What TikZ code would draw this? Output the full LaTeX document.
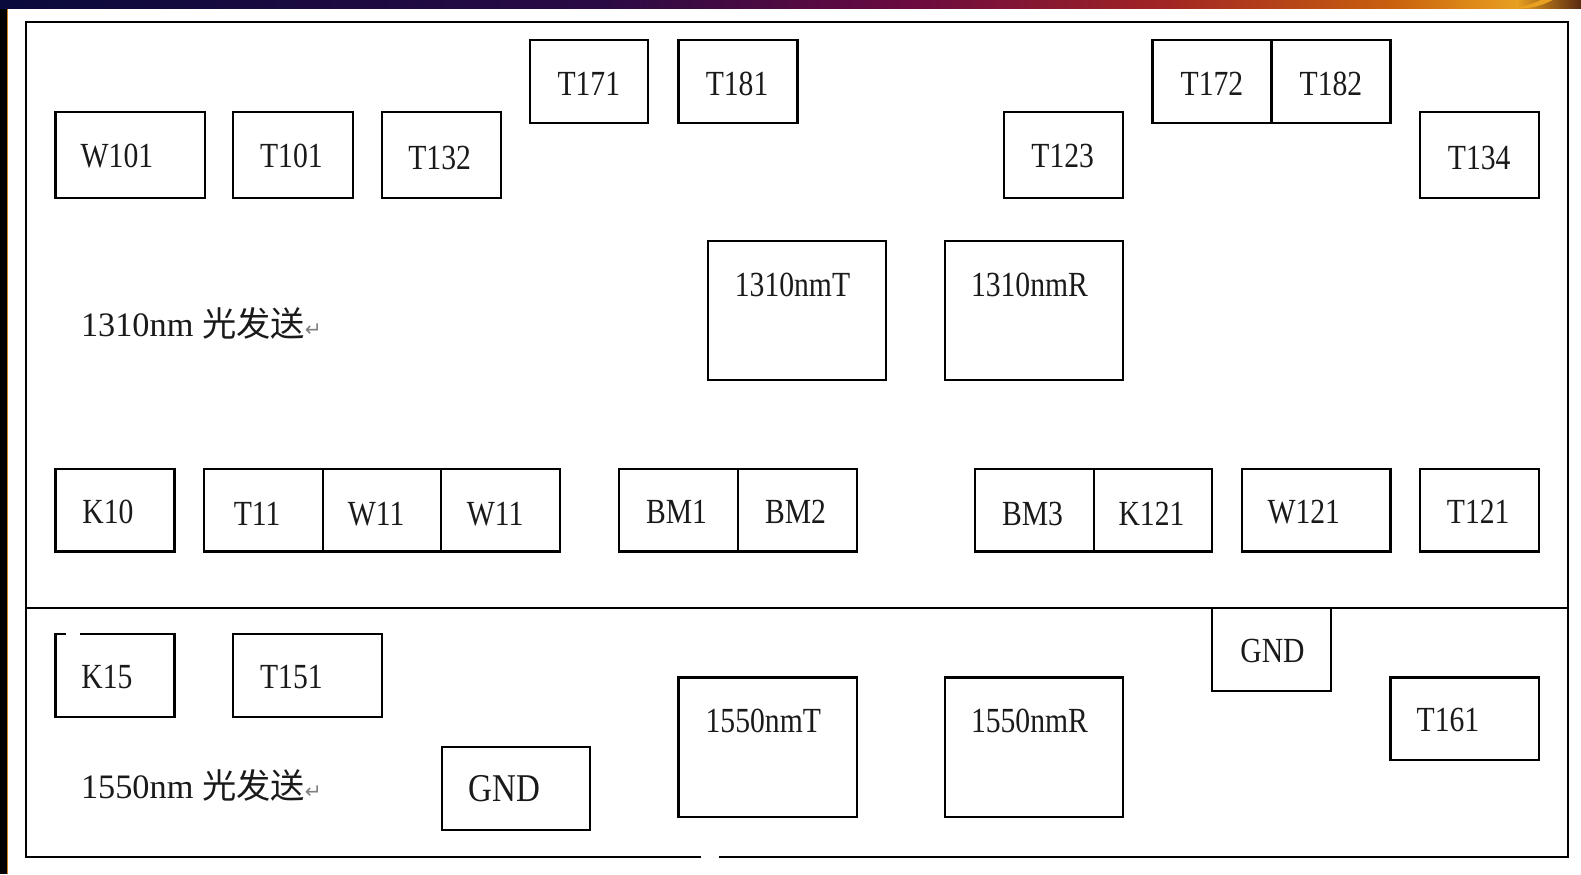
\documentclass[tikz,border=0pt]{standalone}
\usepackage{fontspec}
\setmainfont{Liberation Serif}
\newfontfamily\labfont[FakeStretch=0.84]{Liberation Serif}
\newfontfamily\cjk{Noto Sans CJK SC}
\newfontfamily\arrfont{DejaVu Sans}
\definecolor{ink}{HTML}{1A1A1A}
\definecolor{cA}{HTML}{0A0A3C}
\definecolor{cB}{HTML}{2A0A44}
\definecolor{cC}{HTML}{6A0A40}
\definecolor{cD}{HTML}{A02424}
\definecolor{cE}{HTML}{C8600E}
\definecolor{cF}{HTML}{E8A020}
\definecolor{cG}{HTML}{5A2A10}
\definecolor{edgeor}{HTML}{D08020}
\newcommand\mybox[8]{%
  \draw[boxline] (#1,#2) rectangle (#3,#4);
  \node[lab] (#5) at (#6,#7) {#8};}
\begin{document}
\begin{tikzpicture}[x=0.5pt,y=-0.5pt,
  boxline/.style={draw=black,line width=1.1pt},
  frameline/.style={draw=black,line width=1.2pt},
  lab/.style={inner sep=0pt,text=ink,font=\labfont\fontsize{17.5}{20}\selectfont},
  biglab/.style={lab,font=\labfont\fontsize{19.5}{22}\selectfont},
  freelab/.style={inner sep=0pt,anchor=west,text=ink,font=\fontsize{17}{20}\selectfont}]
\useasboundingbox (0,0) rectangle (1568,867);
\fill[white] (0,0) rectangle (1568,867);
% left black strip and top bar
\fill[black] (0,0) rectangle (7,867);
\fill[edgeor] (6.5,8) rectangle (8,867);
\shade[left color=cA,right color=cB] (0,0) rectangle (600,8);
\shade[left color=cB,right color=cC] (599,0) rectangle (900,8);
\shade[left color=cC,right color=cD] (899,0) rectangle (1150,8);
\shade[left color=cD,right color=cE] (1149,0) rectangle (1380,8);
\shade[left color=cE,right color=cF] (1379,0) rectangle (1505,8);
\shade[left color=cF,right color=cG] (1504,0) rectangle (1568,8);
\fill[cF] (1500,8) .. controls (1515,6) and (1522,3) .. (1528,0) -- (1540,0) .. controls (1532,4) and (1524,7) .. (1514,8) -- cycle;
% outer frame
\draw[frameline] (695,850) -- (26,850) -- (26,22) -- (1555,22) -- (1555,850) -- (713,850);
\draw[frameline] (26,603) -- (1555,603);
% upper section
\mybox{55}{111}{203}{196}{W101}{116}{155}{W101}
\mybox{231}{111}{350}{196}{T101}{289}{155}{T101}
\mybox{379}{111}{497}{196}{T132}{436}{157}{T132}
\mybox{526}{40}{643}{122}{T171}{584}{83}{T171}
\mybox{673}{40}{791}{122}{T181}{731}{83}{T181}
\mybox{996}{111}{1114}{196}{T123}{1054}{155}{T123}
\mybox{1143}{40}{1261}{122}{T172}{1202}{83}{T172}
\mybox{1261}{40}{1379}{122}{T182}{1320}{83}{T182}
\mybox{1408}{111}{1526}{196}{T134}{1467}{157}{T134}
\mybox{702}{239}{879}{377}{nmT1310}{786}{283}{1310nmT}
\mybox{937}{239}{1114}{377}{nmR1310}{1021}{283}{1310nmR}
\node[freelab] (tx1310) at (80,321) {1310nm {\cjk 光发送}{\arrfont\color{gray}\fontsize{10}{12}\selectfont ↵}};
\mybox{55}{465}{173}{547}{K10}{107}{508}{K10}
\mybox{202}{465}{320}{547}{T11}{255}{510}{T11}
\mybox{320}{465}{437}{547}{W11a}{373}{510}{W11}
\mybox{437}{465}{555}{547}{W11b}{491}{510}{W11}
\mybox{614}{465}{732}{547}{BM1}{671}{508}{BM1}
\mybox{732}{465}{850}{547}{BM2}{789}{508}{BM2}
\mybox{967}{465}{1085}{547}{BM3}{1024}{510}{BM3}
\mybox{1085}{465}{1202}{547}{K121}{1142}{510}{K121}
\mybox{1232}{465}{1379}{547}{W121}{1293}{508}{W121}
\mybox{1408}{465}{1526}{547}{T121}{1466}{508}{T121}
% lower section
\draw[boxline] (65,629) -- (55,629) -- (55,711) -- (173,711) -- (173,629) -- (79,629);
\node[lab] (K15) at (106,671) {K15};
\mybox{231}{629}{379}{711}{T151}{289}{671}{T151}
\draw[boxline] (438,741) rectangle (585,823);
\node[biglab] (GNDa) at (500,782) {GND};
\node[freelab] (tx1550) at (80,779) {1550nm {\cjk 光发送}{\arrfont\color{gray}\fontsize{10}{12}\selectfont ↵}};
\mybox{673}{672}{850}{810}{nmT1550}{757}{715}{1550nmT}
\mybox{937}{672}{1114}{810}{nmR1550}{1021}{715}{1550nmR}
\mybox{1202}{603}{1320}{685}{GNDb}{1262}{646}{GND}
\mybox{1379}{672}{1526}{754}{T161}{1436}{714}{T161}
\end{tikzpicture}
\end{document}
